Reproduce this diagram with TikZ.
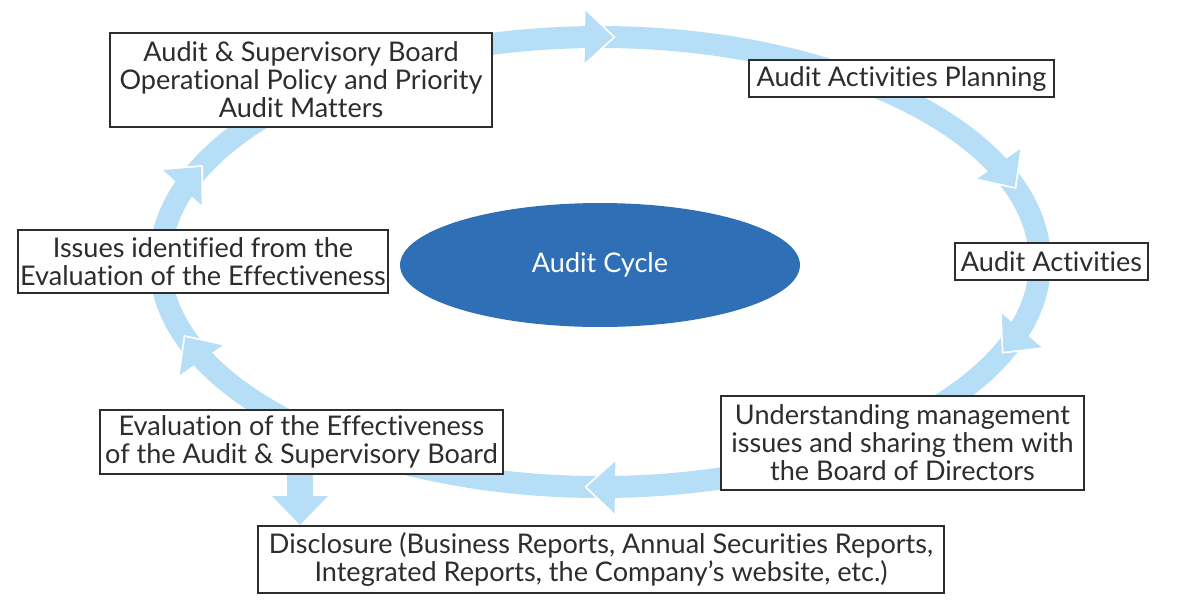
\documentclass[tikz,border=0pt]{standalone}
\usepackage{fontspec}
\setmainfont{Lato}[Ligatures=NoCommon]
\usetikzlibrary{arrows.meta,calc,shapes.geometric}
\definecolor{band}{RGB}{182,222,246}
\definecolor{cyc}{RGB}{46,111,182}
\definecolor{ink}{RGB}{45,45,45}
\tikzset{
  box/.style={draw=ink, line width=0.04cm, fill=white, text=ink, align=center, inner sep=0pt,
    font=\fontsize{15.4}{15.9}\selectfont},
}
\newcommand\ringhead[1]{%
  \pgfmathsetmacro\ahtx{600+440*cos(#1)}%
  \pgfmathsetmacro\ahty{262-225*sin(#1)}%
  \pgfmathsetmacro\ahdx{4.4*sin(#1)}%
  \pgfmathsetmacro\ahdy{2.25*cos(#1)}%
  \pgfmathsetmacro\ahnn{sqrt(\ahdx*\ahdx+\ahdy*\ahdy)}%
  \pgfmathsetmacro\ahux{\ahdx/\ahnn}%
  \pgfmathsetmacro\ahuy{\ahdy/\ahnn}%
  \path[preaction={draw=white, line width=0.07cm, line join=miter}, fill=band]
    ({\ahtx-28*\ahux+26*\ahuy},{\ahty-28*\ahuy-26*\ahux}) -- (\ahtx,\ahty)
    -- ({\ahtx-28*\ahux-26*\ahuy},{\ahty-28*\ahuy+26*\ahux});
}
\begin{document}
\begin{tikzpicture}[x=0.02cm,y=-0.02cm]
\useasboundingbox (0,0) rectangle (1200,600);
% ring
\draw[band, line width=0.44cm] (600,262) ellipse [x radius=440, y radius=225];
\ringhead{88.3}
\ringhead{19.5}
\ringhead{-23.5}
\ringhead{268.3}
\ringhead{199.5}
\ringhead{155}
% center ellipse
\node[ellipse, fill=cyc, minimum width=8cm, minimum height=2.48cm, text=white,
  font=\fontsize{15.4}{15.9}\selectfont, inner sep=0pt] (cycle) at (600,265) {Audit Cycle};
% boxes
\node[box, minimum width={382*0.02cm}, minimum height={94*0.02cm}] (policy) at (301,80)
  {Audit \& Supervisory Board\\Operational Policy and Priority\\Audit Matters};
\node[box, minimum width={305*0.02cm}, minimum height={37*0.02cm}] (plan) at (901.5,78.5)
  {Audit Activities Planning};
\node[box, minimum width={193*0.02cm}, minimum height={37*0.02cm}] (act) at (1051.5,261.5)
  {Audit Activities};
\node[box, minimum width={363*0.02cm}, minimum height={94*0.02cm}] (share) at (902.5,443)
  {Understanding management\\issues and sharing them with\\the Board of Directors};
\node[box, minimum width={403*0.02cm}, minimum height={64*0.02cm}] (eval) at (301.5,442)
  {Evaluation of the Effectiveness\\of the Audit \& Supervisory Board};
\node[box, minimum width={370*0.02cm}, minimum height={63*0.02cm}] (issues) at (203,261.5)
  {Issues identified from the\\Evaluation of the Effectiveness};
\node[box, minimum width={686*0.02cm}, minimum height={67*0.02cm}] (disc) at (601,559.5)
  {Disclosure (Business Reports, Annual Securities Reports,\\Integrated Reports, the Company’s website, etc.)};
% down arrow
\coordinate (ds) at ($(eval.south)+(-1.5,-0.5)$);
\draw[band, line width=0.52cm, -{Triangle[width=1.08cm,length=0.58cm]}]
  (ds) -- (ds |- disc.north);
\end{tikzpicture}
\end{document}
